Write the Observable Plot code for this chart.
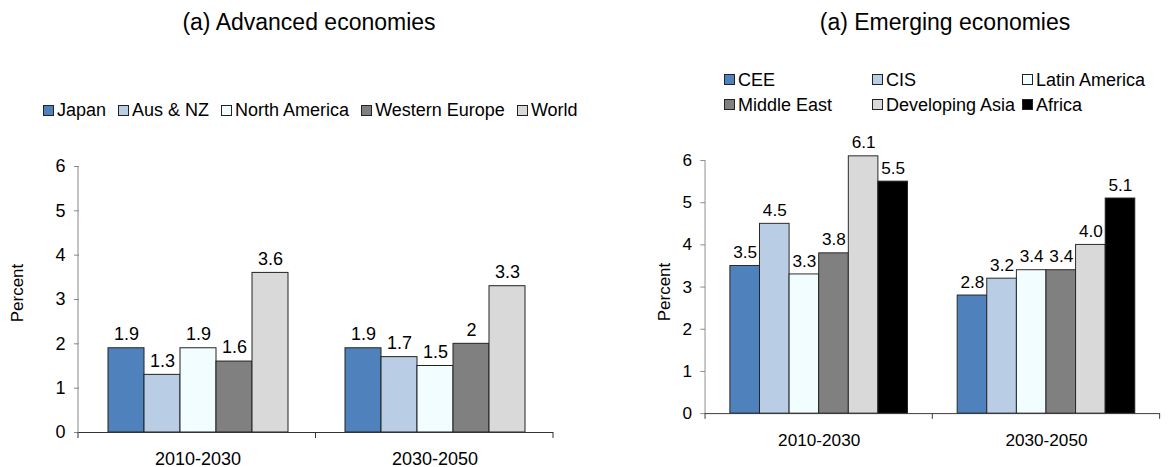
<!DOCTYPE html>
<html>
<head>
<meta charset="utf-8">
<script src="https://cdn.jsdelivr.net/npm/d3@7"></script>
<script src="https://cdn.jsdelivr.net/npm/@observablehq/plot@0.6"></script>
<style>
  html, body { margin: 0; padding: 0; background: #fff; }
  body { width: 1173px; height: 467px; overflow: hidden; position: relative;
         font-family: "Liberation Sans", Arial, sans-serif; color: #000; }
  .abs { position: absolute; }
  .title { font-size: 23px; white-space: nowrap; transform: translate(-50%, -50%); }
  .ylab { font-size: 17px; white-space: nowrap; transform: translate(-50%, -50%) rotate(-90deg); }
  .legend { font-size: 18px; line-height: 22px; white-space: nowrap; }
  .legend .item { display: flex; align-items: center; }
  .legend .sw { width: 9px; height: 9px; border: 1px solid #222; margin-right: 3px; flex: none; }
  #legA { display: flex; }
  #legA .item { margin-right: 12px; }
  #legB { display: grid; grid-template-columns: 148px 150px 150px; grid-auto-rows: 25px; }
  .chart svg { overflow: visible; }
</style>
</head>
<body>
<div class="abs title" style="left:309px; top:22px;">(a) Advanced economies</div>
<div class="abs title" style="left:945px; top:22px;">(a) Emerging economies</div>
<div id="legA" class="abs legend" style="left:43px; top:99px;"></div>
<div id="legB" class="abs legend" style="left:724px; top:67px;"></div>
<div class="abs ylab" style="left:18px; top:293px;">Percent</div>
<div class="abs ylab" style="left:665px; top:292px;">Percent</div>
<div id="chartA" class="abs chart" style="left:0px; top:150px;"></div>
<div id="chartB" class="abs chart" style="left:600px; top:140px;"></div>
<script>
// ---- data ----
const periods = ["2010-2030", "2030-2050"];
const yTicks = [0, 1, 2, 3, 4, 5, 6];

const advSeries = ["Japan", "Aus & NZ", "North America", "Western Europe", "World"];
const advColors = ["#4F81BD", "#B9CDE5", "#F2FDFF", "#808080", "#D9D9D9"];
const adv2010 = [1.9, 1.3, 1.9, 1.6, 3.6];
const adv2030 = [1.9, 1.7, 1.5, 2, 3.3];

const emgSeries = ["CEE", "CIS", "Latin America", "Middle East", "Developing Asia", "Africa"];
const emgColors = ["#4F81BD", "#B9CDE5", "#F2FDFF", "#808080", "#D9D9D9", "#000000"];
const emg2010 = [3.5, 4.5, 3.3, 3.8, 6.1, 5.5];
const emg2030 = [2.8, 3.2, 3.4, 3.4, 4.0, 5.1];

function buildLegend(id, series, colors) {
  const el = document.getElementById(id);
  series.forEach((s, i) => {
    const item = document.createElement("div");
    item.className = "item";
    const sw = document.createElement("span");
    sw.className = "sw";
    sw.style.background = colors[i];
    const tx = document.createElement("span");
    tx.textContent = s;
    item.appendChild(sw); item.appendChild(tx);
    el.appendChild(item);
  });
}

function chart(target, {series, colors, vals, fmt, width, height, mt, mb, ml, mr, labelPad}) {
  const data = periods.flatMap((p, i) => series.map((s, j) => ({period: p, series: s, value: vals[i][j]})));
  const plot = Plot.plot({
    width, height,
    marginTop: mt, marginBottom: mb, marginLeft: ml, marginRight: mr,
    style: {fontFamily: "'Liberation Sans', Arial, sans-serif", fontSize: "18px", color: "#000", background: "transparent", overflow: "visible"},
    fx: {domain: periods, padding: 0, label: null},
    x: {domain: series, paddingInner: 0, paddingOuter: 0.74, axis: null},
    y: {domain: [0, 6], label: null},
    color: {domain: series, range: colors},
    marks: [
      Plot.axisY({ticks: yTicks, tickSize: 5, tickPadding: 9, label: null, stroke: "#888", tickFormat: d => String(d)}),
      Plot.axisFx({anchor: "bottom", tickSize: 0, tickPadding: labelPad, label: null}),
      Plot.barY(data, {fx: "period", x: "series", y: "value", fill: "series", stroke: "#222", strokeWidth: 1}),
      Plot.ruleY([0], {stroke: "#333", strokeWidth: 1}),
      Plot.text(data, {fx: "period", x: "series", y: "value", text: d => fmt(d.value), dy: -14, fill: "#000"})
    ]
  });
  document.getElementById(target).appendChild(plot);

  // axis line and category-boundary ticks, placed from the plot's own scales
  const fx = plot.scale("fx");
  const y = plot.scale("y");
  const [x0, x1] = fx.range;
  const n = fx.domain.length;
  const yBottom = y.range[0], yTop = y.range[1];
  const svg = d3.select(plot.tagName.toLowerCase() === "svg" ? plot : plot.querySelector("svg"));
  svg.append("line")
    .attr("x1", x0).attr("x2", x0).attr("y1", yTop).attr("y2", yBottom)
    .attr("stroke", "#888").attr("stroke-width", 1);
  const bounds = d3.range(n + 1).map(i => x0 + i * (x1 - x0) / n);
  svg.selectAll("line.bt").data(bounds).join("line")
    .attr("class", "bt")
    .attr("x1", d => d).attr("x2", d => d)
    .attr("y1", yBottom).attr("y2", yBottom + 6)
    .attr("stroke", "#333").attr("stroke-width", 1);
}

buildLegend("legA", advSeries, advColors);
buildLegend("legB", emgSeries, emgColors);

chart("chartA", {
  series: advSeries, colors: advColors, vals: [adv2010, adv2030],
  fmt: v => String(v),
  width: 600, height: 317, mt: 16, mb: 35, ml: 78, mr: 47, labelPad: 20
});
chart("chartB", {
  series: emgSeries, colors: emgColors, vals: [emg2010, emg2030],
  fmt: v => v.toFixed(1),
  width: 600, height: 327, mt: 21, mb: 41, ml: 110, mr: 14, labelPad: 21
});
</script>
</body>
</html>
